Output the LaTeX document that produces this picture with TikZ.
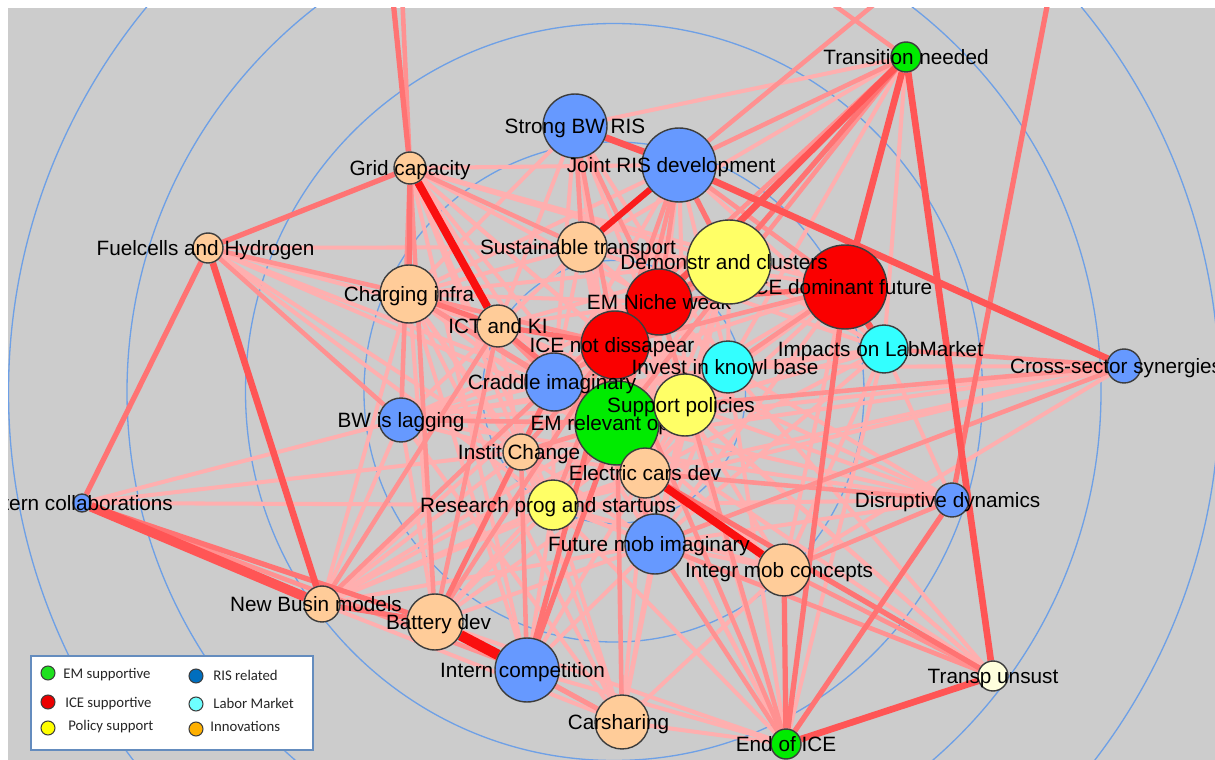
\documentclass[tikz,border=0pt]{standalone}
\usepackage{fontspec}
\setmainfont{Liberation Sans}
\newfontfamily\keyfont{Carlito}
\definecolor{bggray}{RGB}{204,204,204}
\definecolor{ringblue}{RGB}{110,160,230}
\definecolor{linkA}{RGB}{255,175,175}
\definecolor{linkB}{RGB}{255,145,145}
\definecolor{linkC}{RGB}{255,115,115}
\definecolor{linkD}{RGB}{255,85,85}
\definecolor{linkE}{RGB}{250,15,15}
\definecolor{emgreen}{RGB}{0,235,0}
\definecolor{icered}{RGB}{250,0,0}
\definecolor{polyellow}{RGB}{255,255,102}
\definecolor{risblue}{RGB}{102,153,255}
\definecolor{labcyan}{RGB}{51,255,255}
\definecolor{innorange}{RGB}{255,204,153}
\definecolor{paleyellow}{RGB}{255,255,221}
\definecolor{nodeedge}{RGB}{60,60,60}
\definecolor{keygreen}{RGB}{30,225,30}
\definecolor{keyred}{RGB}{235,0,0}
\definecolor{keyyellow}{RGB}{255,255,0}
\definecolor{keyblue}{RGB}{0,110,190}
\definecolor{keycyan}{RGB}{110,255,255}
\definecolor{keyorange}{RGB}{255,176,0}
\definecolor{keyframe}{RGB}{100,140,190}
\pgfdeclarelayer{back}
\pgfdeclarelayer{links}
\pgfsetlayers{back,links,main}
\tikzset{
  ent/.style={circle,draw=nodeedge,line width=.8pt,inner sep=0pt,minimum size=#1*0.04cm},
  lbl/.style={inner sep=0pt,text height=10.8pt,text depth=2.4pt,font=\fontsize{11.8}{13}\selectfont},
  ring/.style={draw=ringblue,line width=.75pt},
  lnkA/.style={draw=linkA,line width=2.3pt},
  lnkB/.style={draw=linkB,line width=2.6pt},
  lnkC/.style={draw=linkC,line width=3pt},
  lnkD/.style={draw=linkD,line width=3.8pt},
  lnkE/.style={draw=linkE,line width=4.5pt},
  keydot/.style={circle,draw=nodeedge,line width=.6pt,inner sep=0pt,minimum size=0.28cm},
  keytxt/.style={anchor=west,inner sep=0pt,text height=5.4pt,text depth=0pt,text=black!85,font=\keyfont\fontsize{8.4}{10}\selectfont}
}
\begin{document}
\begin{tikzpicture}[x=0.02cm,y=-0.02cm]
\useasboundingbox (0,0) rectangle (1215,760);
\begin{pgfonlayer}{back}
\fill[white] (0,0) rectangle (1215,760);
\fill[bggray] (8,8) rectangle (1215,760);
\begin{scope}
\clip (8,8) rectangle (1215,760);
\foreach \r in {131.5,250,368.5,487,605.5}
  \draw[ring] (614,392) circle[radius=\r];
\end{scope}
\end{pgfonlayer}
% loose ends above the frame
\coordinate (offgridA) at (390,-30);
\coordinate (offgridB) at (401,-30);
\coordinate (offtn) at (770,-41);
\coordinate (offjris) at (916,-30);
\coordinate (offdisr) at (1054,-30);
% entities
\begin{scope}
\clip (8,8) rectangle (1215,760);
\node[ent=15,fill=emgreen] (tn) at (906,57) {};
\node[lbl] (tn-l) at (tn) {Transition needed};
\node[ent=32,fill=risblue] (sbw) at (575,126) {};
\node[lbl] (sbw-l) at (sbw) {Strong BW RIS};
\node[ent=37,fill=risblue] (jris) at (679,165) {};
\node[lbl,xshift=-4.5pt] (jris-l) at (jris) {Joint RIS development};
\node[ent=16,fill=innorange] (grid) at (410,168) {};
\node[lbl] (grid-l) at (grid) {Grid capacity};
\node[ent=15,fill=innorange] (fuel) at (208,248) {};
\node[lbl,xshift=-1.4pt] (fuel-l) at (fuel) {Fuelcells and Hydrogen};
\node[ent=25,fill=innorange] (sust) at (582,247) {};
\node[lbl,xshift=-2.3pt] (sust-l) at (sust) {Sustainable transport};
\node[ent=42,fill=icered] (icedom) at (845,287) {};
\node[lbl,xshift=-2.8pt] (icedom-l) at (icedom) {ICE dominant future};
\node[ent=33,fill=icered] (niche) at (659,302) {};
\node[lbl] (niche-l) at (niche) {EM Niche weak};
\node[ent=42,fill=polyellow] (demo) at (729,262) {};
\node[lbl,xshift=-2.8pt] (demo-l) at (demo) {Demonstr and clusters};
\node[ent=34,fill=icered] (icenot) at (615,345) {};
\node[lbl,xshift=-1.7pt] (icenot-l) at (icenot) {ICE not dissapear};
\node[ent=24,fill=labcyan] (labm) at (884,349) {};
\node[lbl,xshift=-2pt] (labm-l) at (labm) {Impacts on LabMarket};
\node[ent=26,fill=labcyan] (invest) at (728,367) {};
\node[lbl,xshift=-1.7pt] (invest-l) at (invest) {Invest in knowl base};
\node[ent=29,fill=innorange] (charg) at (409,294) {};
\node[lbl] (charg-l) at (charg) {Charging infra};
\node[ent=21,fill=innorange] (ict) at (498,326) {};
\node[lbl] (ict-l) at (ict) {ICT and KI};
\node[ent=42,fill=emgreen] (emrel) at (617,423) {};
\node[lbl] (emrel-l) at (emrel) {EM relevant option};
\node[ent=29,fill=risblue] (cradle) at (554,382) {};
\node[lbl,xshift=-1.1pt] (cradle-l) at (cradle) {Craddle imaginary};
\node[ent=17,fill=risblue] (cross) at (1124,366) {};
\node[lbl,xshift=-4.5pt] (cross-l) at (cross) {Cross-sector synergies};
\node[ent=31,fill=polyellow] (supp) at (685,405) {};
\node[lbl,xshift=-2.3pt] (supp-l) at (supp) {Support policies};
\node[ent=22,fill=risblue] (bwlag) at (401,420) {};
\node[lbl] (bwlag-l) at (bwlag) {BW is lagging};
\node[ent=18,fill=innorange] (instit) at (521,452) {};
\node[lbl,xshift=-1.1pt] (instit-l) at (instit) {Instit Change};
\node[ent=25,fill=innorange] (ecars) at (645,473) {};
\node[lbl] (ecars-l) at (ecars) {Electric cars dev};
\node[ent=17,fill=risblue] (disr) at (952,500) {};
\node[lbl,xshift=-2.5pt] (disr-l) at (disr) {Disruptive dynamics};
\node[ent=9,fill=risblue] (icoll) at (82,503) {};
\node[lbl,xshift=-1.4pt] (icoll-l) at (icoll) {Intern collaborations};
\node[ent=25,fill=polyellow] (resprog) at (553,505) {};
\node[lbl,xshift=-2.8pt] (resprog-l) at (resprog) {Research prog and startups};
\node[ent=30,fill=risblue] (futmob) at (655,544) {};
\node[lbl,xshift=-3.4pt] (futmob-l) at (futmob) {Future mob imaginary};
\node[ent=26,fill=innorange] (integr) at (784,570) {};
\node[lbl,xshift=-2.8pt] (integr-l) at (integr) {Integr mob concepts};
\node[ent=18,fill=innorange] (newbus) at (322,604) {};
\node[lbl,xshift=-3.4pt] (newbus-l) at (newbus) {New Busin models};
\node[ent=28,fill=innorange] (batt) at (435,622) {};
\node[lbl,xshift=2pt] (batt-l) at (batt) {Battery dev};
\node[ent=32,fill=risblue] (icomp) at (527,670) {};
\node[lbl,xshift=-2.5pt] (icomp-l) at (icomp) {Intern competition};
\node[ent=27,fill=innorange] (carsh) at (622,722) {};
\node[lbl,xshift=-2pt] (carsh-l) at (carsh) {Carsharing};
\node[ent=15,fill=emgreen] (endice) at (786,744) {};
\node[lbl] (endice-l) at (endice) {End of ICE};
\node[ent=15,fill=paleyellow] (transp) at (993,676) {};
\node[lbl] (transp-l) at (transp) {Transp unsust};
\end{scope}
% links, under the entities
\begin{pgfonlayer}{links}
\begin{scope}
\clip (8,8) rectangle (1215,760);
\foreach \a/\b in {fuel/sust,fuel/ict,fuel/instit,fuel/cradle,fuel/emrel,fuel/resprog,
  grid/demo,grid/niche,grid/icenot,grid/cradle,grid/emrel,grid/supp,grid/instit,grid/resprog,grid/jris,grid/icedom,
  icoll/instit,icoll/resprog,icoll/bwlag,
  tn/sust,tn/sbw,tn/invest,tn/labm,
  sbw/cradle,sbw/ict,sbw/charg,sbw/emrel,sbw/supp,sbw/invest,
  jris/cradle,jris/supp,jris/invest,jris/labm,jris/charg,jris/ecars,
  cross/invest,cross/ecars,cross/resprog,cross/integr,cross/emrel,cross/instit,
  disr/supp,disr/emrel,disr/futmob,disr/labm,disr/invest,disr/icenot,disr/resprog,disr/bwlag,
  transp/emrel,transp/supp,transp/icenot,transp/resprog,transp/invest,
  endice/carsh,endice/ecars,endice/supp,endice/emrel,endice/resprog,endice/icomp,endice/invest,endice/labm,endice/batt,
  carsh/resprog,carsh/ecars,carsh/futmob,carsh/instit,carsh/supp,carsh/integr,carsh/charg,carsh/bwlag,carsh/newbus,
  icomp/futmob,icomp/resprog,icomp/ecars,icomp/charg,icomp/grid,
  newbus/bwlag,newbus/instit,newbus/resprog,newbus/emrel,newbus/ecars,newbus/futmob,newbus/supp,newbus/charg,newbus/icenot,
  batt/instit,batt/resprog,batt/emrel,batt/ecars,batt/futmob,batt/charg,batt/bwlag,
  charg/sust,charg/supp,charg/instit,charg/niche,charg/demo,charg/resprog,charg/ecars,
  bwlag/instit,bwlag/cradle,bwlag/supp,bwlag/icenot,bwlag/niche,bwlag/sust,bwlag/invest,bwlag/labm,
  ict/supp,ict/niche,ict/demo,ict/invest,ict/instit,ict/ecars,
  sust/icenot,sust/demo,sust/cradle,sust/emrel,sust/supp,sust/invest,sust/labm,sust/icedom,sust/ecars,
  demo/emrel,demo/supp,demo/invest,demo/labm,demo/cradle,demo/ecars,demo/futmob,
  icedom/supp,icedom/emrel,icedom/cradle,icedom/ecars,icedom/futmob,icedom/integr,
  niche/cradle,niche/supp,niche/invest,niche/ecars,
  icenot/supp,icenot/invest,icenot/ecars,icenot/futmob,
  labm/invest,labm/supp,labm/emrel,labm/ecars,labm/futmob,labm/integr,
  invest/supp,invest/emrel,invest/ecars,invest/futmob,invest/resprog,
  cradle/supp,cradle/instit,cradle/resprog,cradle/ecars,cradle/futmob,
  supp/ecars,supp/resprog,supp/futmob,supp/integr,supp/instit,
  emrel/integr,
  instit/resprog,instit/ecars,instit/futmob,ecars/resprog,ecars/futmob,
  resprog/futmob,resprog/integr,futmob/integr}
  \draw[lnkA] (\a) -- (\b);
\foreach \a/\b in {fuel/charg,fuel/bwlag,grid/bwlag,grid/batt,grid/sust,tn/emrel,tn/jris,tn/cradle,
  sbw/niche,sbw/icenot,sbw/sust,jris/niche,jris/icenot,jris/icedom,jris/emrel,
  cross/labm,cross/supp,cross/futmob,transp/integr,transp/futmob,
  endice/icenot,endice/futmob,endice/niche,carsh/icomp,carsh/batt,carsh/emrel,
  icoll/icomp,newbus/ict,newbus/cradle,batt/icenot,batt/ict,charg/icenot,bwlag/emrel,
  icomp/instit,resprog/icenot,instit/icenot,icedom/invest,disr/integr,disr/ecars,
  icenot/cradle,icenot/emrel,ict/cradle,charg/cradle,charg/emrel,cradle/emrel,
  niche/emrel,demo/icenot,icedom/icenot,supp/emrel,emrel/ecars,emrel/instit,
  emrel/resprog,emrel/futmob,
  offgridB/grid,offtn/tn,offjris/jris}
  \draw[lnkB] (\a) -- (\b);
\foreach \a/\b in {fuel/grid,fuel/icoll,grid/charg,tn/demo,tn/niche,jris/demo,
  endice/integr,endice/icedom,endice/disr,icoll/batt,newbus/batt,ecars/transp,
  batt/cradle,icomp/emrel,icomp/icenot,charg/ict,ict/icenot,niche/icenot,
  ict/emrel,icedom/niche,demo/niche,
  offgridA/grid,offdisr/disr}
  \draw[lnkC] (\a) -- (\b);
\foreach \a/\b in {fuel/newbus,jris/cross,sbw/jris,tn/icedom,tn/icenot,tn/transp,
  transp/endice,icedom/labm}
  \draw[lnkD] (\a) -- (\b);
\draw[lnkD,line width=5.5pt] (icoll) -- (newbus);
\draw[lnkD,draw=linkE!80!linkD,line width=3.5pt] (jris) -- (sust);
\foreach \a/\b in {grid/ict,ecars/integr}
  \draw[lnkE] (\a) -- (\b);
\draw[lnkE,line width=6pt] (batt) -- (icomp);
\end{scope}
\end{pgfonlayer}
% legend
\draw[draw=keyframe,fill=white,line width=.6pt] (31,656) rectangle (313,750);
\node[keydot,fill=keygreen] (k1) at (48,673) {};
\node[keytxt] (k1-t) at (63,674) {EM supportive};
\node[keydot,fill=keyred] (k2) at (48,702) {};
\node[keytxt] (k2-t) at (65,703) {ICE supportive};
\node[keydot,fill=keyyellow] (k3) at (48,728) {};
\node[keytxt] (k3-t) at (68,726) {Policy support};
\node[keydot,fill=keyblue] (k4) at (196,676) {};
\node[keytxt] (k4-t) at (213,676) {RIS related};
\node[keydot,fill=keycyan] (k5) at (196,704) {};
\node[keytxt] (k5-t) at (213,704) {Labor Market};
\node[keydot,fill=keyorange] (k6) at (196,729) {};
\node[keytxt] (k6-t) at (210,727) {Innovations};
\end{tikzpicture}
\end{document}
